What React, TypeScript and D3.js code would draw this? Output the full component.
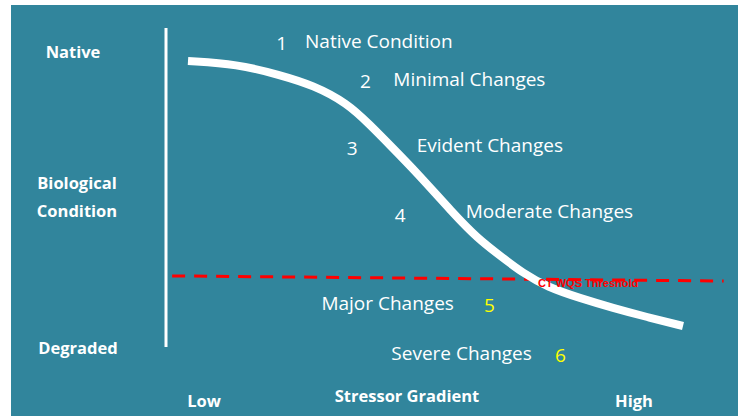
import React from "react";
import * as d3 from "d3";

// Stressor gradient (0 = low, 10 = high) vs biological condition (10 = native, 0 = degraded)
const curveStressor = [0, 0.99, 1.85, 2.52, 3.21, 3.67, 4.07, 4.62, 5.34, 5.83, 6.35, 6.75, 7.24, 7.9, 8.57, 9.25, 9.98];
const curveCondition = [9.63, 9.53, 9.17, 8.83, 8.23, 7.5, 6.83, 5.9, 4.57, 3.73, 3.07, 2.57, 2.1, 1.73, 1.4, 1.1, 0.8];

const thresholdStressor = [-0.32, 10.8];
const thresholdCondition = [2.47, 2.3];
const thresholdLabel = "CT WQS Threshold";

const stageNumbers = ["1", "2", "3", "4", "5", "6"];
const stageNames = ["Native Condition", "Minimal Changes", "Evident Changes", "Moderate Changes", "Major Changes", "Severe Changes"];
// label anchor positions in data units (stressor, condition)
const stageNumX = [1.78, 3.47, 3.2, 4.17, 5.97, 7.4];
const stageNumY = [10.0, 8.73, 6.5, 4.27, 1.27, -0.4];
const stageNameX = [2.36, 4.14, 4.61, 5.6, 2.69, 4.1];
const stageNameY = [10.07, 8.8, 6.6, 4.4, 1.33, -0.33];

const yAxisTop = "Native";
const yAxisMiddle = ["Biological", "Condition"];
const yAxisBottom = "Degraded";
const xAxisLow = "Low";
const xAxisTitle = "Stressor Gradient";
const xAxisHigh = "High";

const W = 738;
const H = 416;
const BG = "#31859C";

export default function App() {
  const x = d3.scaleLinear().domain([0, 10]).range([188, 684]);
  const y = d3.scaleLinear().domain([0, 10]).range([350, 50]);

  const pts: [number, number][] = curveStressor.map((s, i) => [x(s), y(curveCondition[i])]);
  const line = d3.line().curve(d3.curveBasis);
  const thrLine = d3.line();
  const thrPts: [number, number][] = thresholdStressor.map((s, i) => [x(s), y(thresholdCondition[i])]);

  const font = "'Open Sans', Lato, sans-serif";

  return (
    <svg width={W} height={H} style={{ position: "absolute", left: 0, top: 0 }} fontFamily={font}>
      <rect x={0} y={0} width={W} height={H} fill="#ffffff" />
      <rect x={11} y={5} width={W - 11} height={H - 5} fill={BG} />

      {/* vertical axis line */}
      <line x1={166} x2={166} y1={28} y2={347} stroke="#ffffff" strokeWidth={3} />

      {/* axis labels */}
      <g fill="#ffffff" fontWeight="bold" fontSize={16.5}>
        <text x={73} y={58} textAnchor="middle">{yAxisTop}</text>
        <text x={77} y={189} textAnchor="middle">{yAxisMiddle[0]}</text>
        <text x={77} y={217} textAnchor="middle">{yAxisMiddle[1]}</text>
        <text x={78} y={354} textAnchor="middle">{yAxisBottom}</text>
        <text x={204} y={407} textAnchor="middle">{xAxisLow}</text>
        <text x={407} y={402} textAnchor="middle">{xAxisTitle}</text>
        <text x={634} y={407} textAnchor="middle">{xAxisHigh}</text>
      </g>

      {/* threshold line */}
      <path d={thrLine(thrPts) || ""} stroke="#ff0000" strokeWidth={3} strokeDasharray="13 9" fill="none" />

      {/* response curve */}
      <path d={line(pts) || ""} stroke="#ffffff" strokeWidth={8} fill="none" strokeLinecap="butt" strokeLinejoin="round" />

      <text x={538} y={287} fill="#ff0000" fontWeight="bold" fontSize={11} fontFamily="'Liberation Sans', Arial, sans-serif">
        {thresholdLabel}
      </text>

      {/* stage labels */}
      <g fontSize={19}>
        {stageNumbers.map((n, i) => (
          <text key={"n" + i} x={x(stageNumX[i])} y={y(stageNumY[i])} fill={i >= 4 ? "#ffff00" : "#ffffff"}>{n}</text>
        ))}
        {stageNames.map((n, i) => (
          <text key={"s" + i} x={x(stageNameX[i])} y={y(stageNameY[i])} fill="#ffffff">{n}</text>
        ))}
      </g>
    </svg>
  );
}
